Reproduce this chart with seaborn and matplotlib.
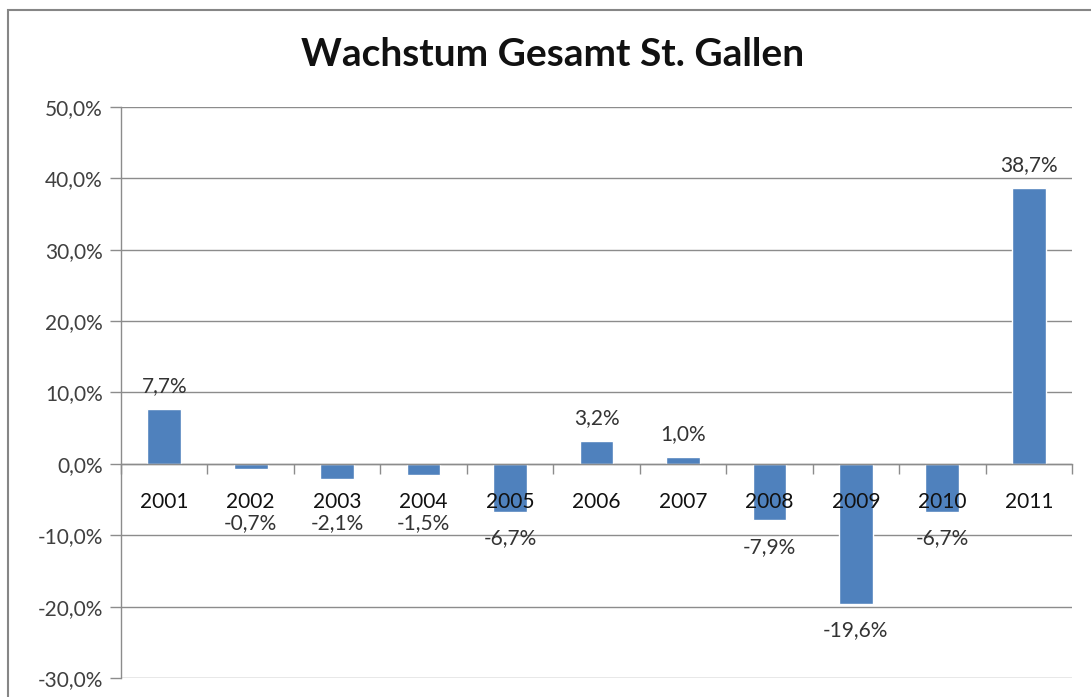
import matplotlib
matplotlib.use("Agg")
import matplotlib.pyplot as plt
import seaborn as sns
from matplotlib.patches import Rectangle
from matplotlib.ticker import FixedLocator, FuncFormatter

years = ['2001', '2002', '2003', '2004', '2005', '2006', '2007', '2008', '2009', '2010', '2011']
growth = [7.7, -0.7, -2.1, -1.5, -6.7, 3.2, 1.0, -7.9, -19.6, -6.7, 38.7]
y_ticks = [-30, -20, -10, 0, 10, 20, 30, 40, 50]
title = 'Wachstum Gesamt St. Gallen'

sns.set_style('white')
plt.rcParams['font.family'] = ['Lato', 'DejaVu Sans']

fig = plt.figure(figsize=(10.91, 6.97), dpi=100)
ax = fig.add_axes([0.1109, 0.0273, 0.8717, 0.8192])

bar_color = '#4F81BD'
grid_color = '#8c8c8c'
fs = 15

# gridlines drawn below the bars, axis (and category labels) above them
for t in y_ticks:
    ax.axhline(t, color=grid_color, lw=1, zorder=0.5)
sns.barplot(x=years, y=growth, color=bar_color, width=0.39, saturation=1, ax=ax, zorder=1)
ax.set_axisbelow(False)

ax.set_xlim(-0.5, len(years) - 0.5)
ax.set_ylim(y_ticks[0], y_ticks[-1])
ax.set_xlabel('')
ax.set_ylabel('')

# y axis
ax.yaxis.set_major_locator(FixedLocator(y_ticks))
ax.yaxis.set_major_formatter(FuncFormatter(lambda v, p: f'{v:.1f}%'.replace('.', ',')))
ax.tick_params(axis='y', which='major', left=True, length=8, width=1, color=grid_color,
               labelsize=fs, labelcolor='#404040', pad=5)

# category axis crosses at 0
for s in ['top', 'right']:
    ax.spines[s].set_visible(False)
ax.spines['left'].set_color(grid_color)
ax.spines['left'].set_linewidth(1)
ax.spines['bottom'].set_position(('data', 0))
ax.spines['bottom'].set_color(grid_color)
ax.spines['bottom'].set_linewidth(1)
ax.set_xticks(range(len(years)))
ax.set_xticks([i - 0.5 for i in range(len(years) + 1)], minor=True)
ax.tick_params(axis='x', which='major', bottom=True, length=0, labelsize=fs,
               labelcolor='#111111', pad=20)
ax.tick_params(axis='x', which='minor', bottom=True, length=7, width=1, color=grid_color)

# data labels
for i, v in enumerate(growth):
    txt = f'{v:.1f}%'.replace('.', ',')
    if v >= 0:
        ax.annotate(txt, xy=(i, v), xytext=(0, 16.5), textcoords='offset points',
                    ha='center', va='center', fontsize=fs, color='#333333', zorder=3)
    else:
        ax.annotate(txt, xy=(i, min(v, -4.6)), xytext=(0, -19), textcoords='offset points',
                    ha='center', va='center', fontsize=fs, color='#333333', zorder=3)

fig.text(553 / 1091, 1 - 55 / 697, title, ha='center', va='center',
         fontsize=28, fontweight='bold', color='#111111')

# outer chart frame (cropped at right and bottom)
fig.add_artist(Rectangle((8 / 1091, -0.05), 1.1, 0.05 + 1 - 10 / 697,
                         transform=fig.transFigure, fill=False,
                         edgecolor='#868686', lw=1.5, clip_on=False))

fig.savefig('out.png', dpi=100)
